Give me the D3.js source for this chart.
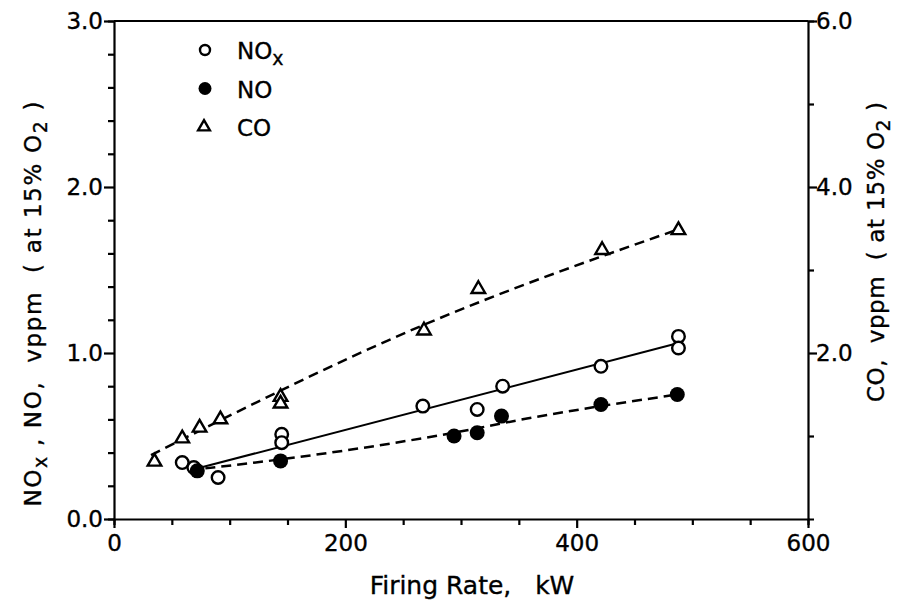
<!DOCTYPE html>
<html>
<head>
<meta charset="utf-8">
<script src="https://cdn.jsdelivr.net/npm/d3@7"></script>
<style>
  body { margin: 0; background: #fff; }
  svg { display: block; font-family: "DejaVu Sans", sans-serif; }
  text { white-space: pre; fill: #000; stroke: #000; stroke-width: 0.35px; }
</style>
</head>
<body>
<div id="chart"></div>
<script>
// values, firing rate in kW
const noxRate = [59, 69, 90, 145, 145, 267, 314, 336, 421, 488, 488];
const noxVal  = [0.34, 0.31, 0.25, 0.51, 0.46, 0.68, 0.66, 0.80, 0.92, 1.10, 1.03];

const noRate = [72, 144, 294, 314, 335, 421, 487];
const noVal  = [0.29, 0.35, 0.50, 0.52, 0.62, 0.69, 0.75];

// CO is read on the right hand axis
const coRate = [35, 59, 74, 92, 144, 144, 268, 315, 422, 488];
const coVal  = [0.69, 0.97, 1.10, 1.20, 1.47, 1.39, 2.27, 2.77, 3.24, 3.48];

// fitted lines as drawn
const noxFitRate = [75, 488];
const noxFitVal  = [0.31, 1.06];
const noFitRate = [79, 145, 294, 357, 487];
const noFitVal  = [0.305, 0.36, 0.52, 0.605, 0.75];
const coFitRate = [32, 268, 490];
const coFitVal  = [0.77, 2.34, 3.50];

// ticks
const xTicks = [0, 50, 100, 150, 200, 250, 300, 350, 400, 450, 500, 550, 600];
const xMajor = [0, 200, 400, 600];
const leftTicks = [0, 0.2, 0.4, 0.6, 0.8, 1, 1.2, 1.4, 1.6, 1.8, 2, 2.2, 2.4, 2.6, 2.8, 3];
const leftMajor = [0, 1, 2, 3];
const rightTicks = [1, 2, 3, 4, 5, 6];
const rightMajor = [2, 4, 6];

const legendNames = ["NO", "NO", "CO"];
const legendSub = ["x", "", ""];

const width = 897, height = 605;

const svg = d3.select("#chart")
  .append("svg")
  .attr("width", width)
  .attr("height", height);

const x = d3.scaleLinear().domain([0, 600]).range([114, 808]);
const yL = d3.scaleLinear().domain([0, 3]).range([519, 21]);
const yR = d3.scaleLinear().domain([0, 6]).range([519, 21]);

const fmt = d3.format(".1f");

// axes
const gx = svg.append("g")
  .attr("transform", `translate(0,${yL(0)})`)
  .call(d3.axisBottom(x).tickValues(xTicks).tickSizeOuter(0).tickSize(6).tickPadding(10)
    .tickFormat(d => xMajor.includes(d) ? d : ""));
gx.selectAll(".tick line").filter(d => xMajor.includes(d)).attr("y2", 9);

const gl = svg.append("g")
  .attr("transform", `translate(${x(0)},0)`)
  .call(d3.axisLeft(yL).tickValues(leftTicks).tickSizeOuter(0).tickSize(6).tickPadding(5)
    .tickFormat(d => leftMajor.includes(d) ? fmt(d) : ""));
gl.selectAll(".tick line").filter(d => leftMajor.includes(d)).attr("x2", -10);

const gr = svg.append("g")
  .attr("transform", `translate(${x(600)},0)`)
  .call(d3.axisRight(yR).tickValues(rightTicks).tickSizeOuter(0).tickSize(6).tickPadding(2)
    .tickFormat(d => rightMajor.includes(d) ? fmt(d) : ""));
gr.selectAll(".tick line").filter(d => rightMajor.includes(d)).attr("x2", 9);

svg.selectAll(".domain, .tick line").attr("stroke", "#000").attr("stroke-width", 2.2);
svg.selectAll(".tick text").attr("font-size", 23).attr("font-family", "DejaVu Sans, sans-serif").attr("fill", "#000");

// top frame line
svg.append("line")
  .attr("x1", x(0)).attr("x2", x(600))
  .attr("y1", yL(3)).attr("y2", yL(3))
  .attr("stroke", "#000").attr("stroke-width", 2.2);

// fitted lines
const lineL = d3.line().x(d => x(d[0])).y(d => yL(d[1])).curve(d3.curveMonotoneX);
const lineR = d3.line().x(d => x(d[0])).y(d => yR(d[1])).curve(d3.curveMonotoneX);

svg.append("path")
  .attr("d", lineR(d3.zip(coFitRate, coFitVal)))
  .attr("fill", "none").attr("stroke", "#000").attr("stroke-width", 2.5)
  .attr("stroke-dasharray", "10,6");

svg.append("path")
  .attr("d", lineL(d3.zip(noFitRate, noFitVal)))
  .attr("fill", "none").attr("stroke", "#000").attr("stroke-width", 2.5)
  .attr("stroke-dasharray", "10,6");

svg.append("path")
  .attr("d", lineL(d3.zip(noxFitRate, noxFitVal)))
  .attr("fill", "none").attr("stroke", "#000").attr("stroke-width", 2);

// markers
const tri = d3.symbol(d3.symbolTriangle, 80);

svg.selectAll("path.co")
  .data(d3.zip(coRate, coVal))
  .enter()
  .append("path")
  .attr("class", "co")
  .attr("d", tri)
  .attr("transform", d => `translate(${x(d[0])},${yR(d[1])})`)
  .attr("fill", "#fff").attr("stroke", "#000").attr("stroke-width", 2.4);

svg.selectAll("circle.nox")
  .data(d3.zip(noxRate, noxVal))
  .enter()
  .append("circle")
  .attr("class", "nox")
  .attr("cx", d => x(d[0]))
  .attr("cy", d => yL(d[1]))
  .attr("r", 6.3)
  .attr("fill", "#fff").attr("stroke", "#000").attr("stroke-width", 2.4);

svg.selectAll("circle.no")
  .data(d3.zip(noRate, noVal))
  .enter()
  .append("circle")
  .attr("class", "no")
  .attr("cx", d => x(d[0]))
  .attr("cy", d => yL(d[1]))
  .attr("r", 7.5)
  .attr("fill", "#000");

// legend
const leg = svg.append("g");
legendNames.forEach((name, i) => {
  const cy = 50 + i * 38.5;
  if (i === 0) {
    leg.append("circle").attr("cx", 205).attr("cy", cy).attr("r", 5)
      .attr("fill", "#fff").attr("stroke", "#000").attr("stroke-width", 2.4);
  } else if (i === 1) {
    leg.append("circle").attr("cx", 205).attr("cy", cy).attr("r", 6.5).attr("fill", "#000");
  } else {
    leg.append("path").attr("d", d3.symbol(d3.symbolTriangle, 60))
      .attr("transform", `translate(204,${cy})`)
      .attr("fill", "#fff").attr("stroke", "#000").attr("stroke-width", 2.4);
  }
  const t = leg.append("text").attr("x", 237).attr("y", cy + 9).attr("font-size", 23).text(name);
  if (legendSub[i]) t.append("tspan").attr("dy", 6).attr("font-size", 19).text(legendSub[i]);
});

// axis titles
svg.append("text")
  .attr("x", 472).attr("y", 594)
  .attr("text-anchor", "middle")
  .attr("font-size", 25)
  .text("Firing Rate,   kW");

const tl = svg.append("text")
  .attr("transform", "translate(41,304) rotate(-90)")
  .attr("text-anchor", "middle")
  .attr("font-size", 23)
  .attr("textLength", 405)
  .attr("lengthAdjust", "spacing");
tl.append("tspan").text("NO");
tl.append("tspan").attr("dy", 6).attr("font-size", 19).text("x");
tl.append("tspan").attr("dy", -6).text(" , NO,  vppm  ( at 15% O");
tl.append("tspan").attr("dy", 6).attr("font-size", 19).text("2");
tl.append("tspan").attr("dy", -6).text(" )");

const tr = svg.append("text")
  .attr("transform", "translate(884,252) rotate(-90)")
  .attr("text-anchor", "middle")
  .attr("font-size", 23)
  .attr("textLength", 300)
  .attr("lengthAdjust", "spacing");
tr.append("tspan").text("CO,  vppm  ( at 15% O");
tr.append("tspan").attr("dy", 6).attr("font-size", 19).text("2");
tr.append("tspan").attr("dy", -6).text(" )");
</script>
</body>
</html>
